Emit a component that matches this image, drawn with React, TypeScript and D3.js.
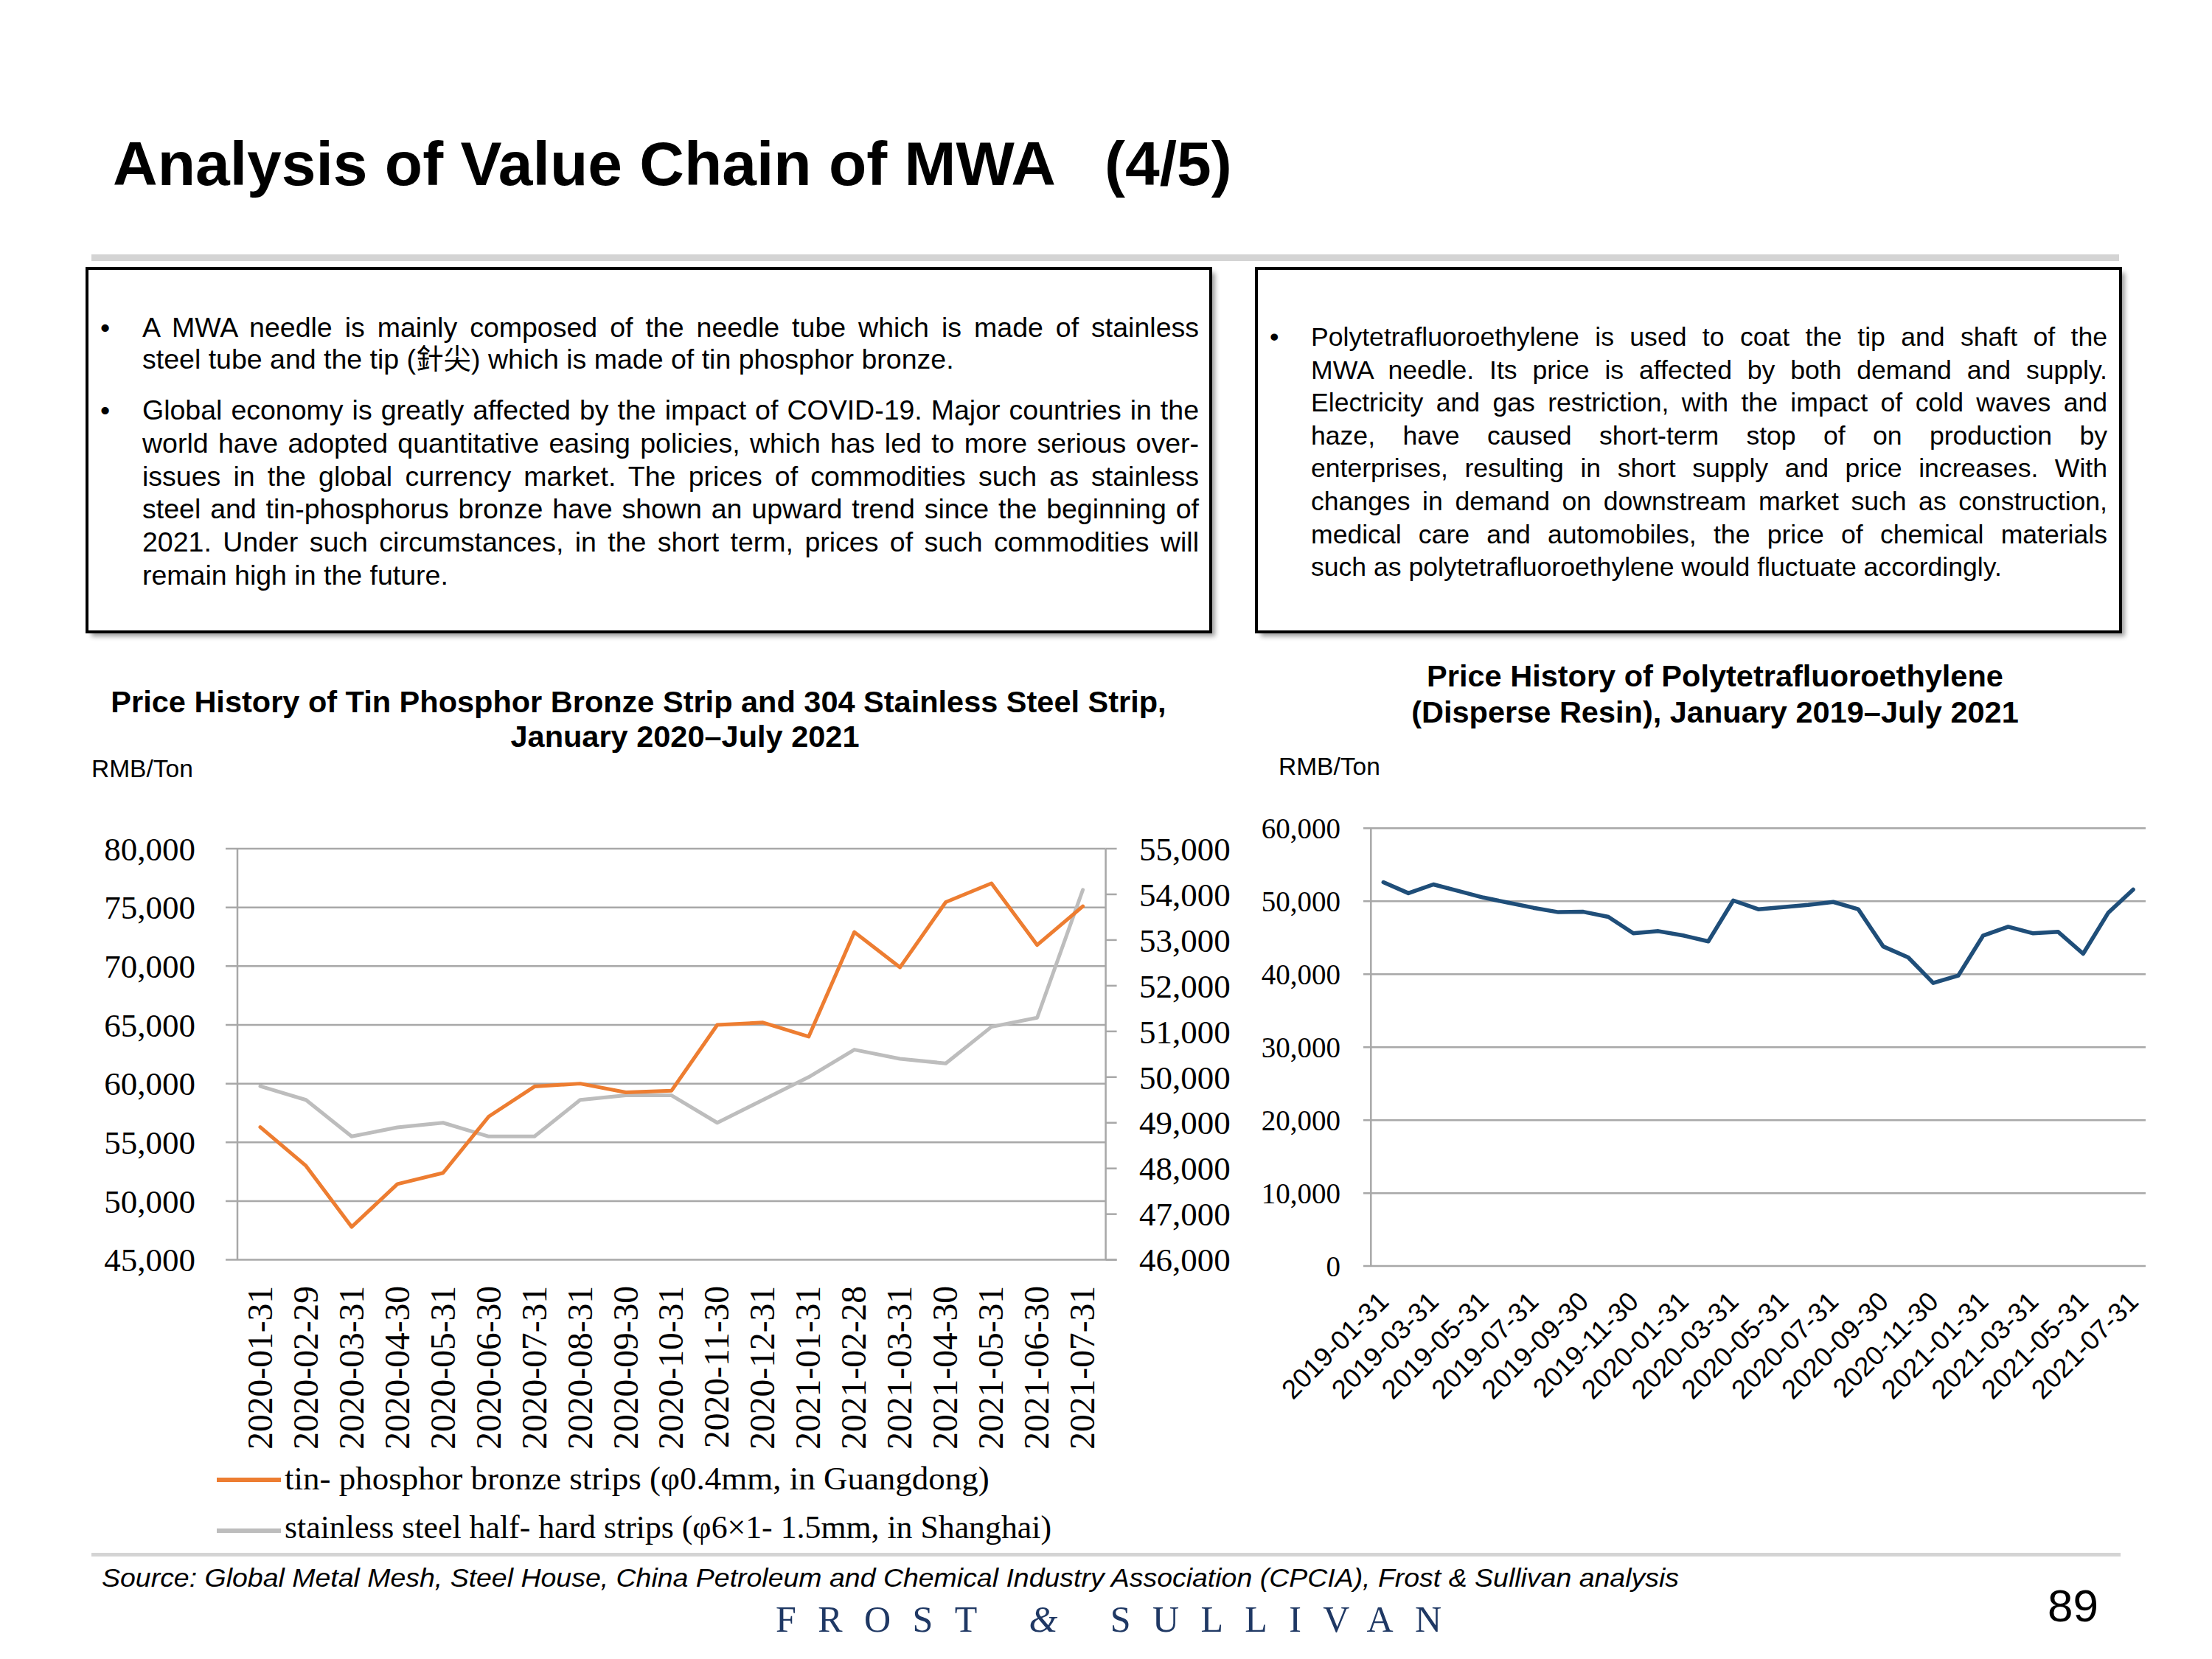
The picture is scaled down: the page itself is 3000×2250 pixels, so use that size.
import React, { useLayoutEffect, useRef } from "react";
import * as d3 from "d3";

// ---------- DATA ----------
const leftDates = [
  "2020-01-31", "2020-02-29", "2020-03-31", "2020-04-30", "2020-05-31", "2020-06-30",
  "2020-07-31", "2020-08-31", "2020-09-30", "2020-10-31", "2020-11-30", "2020-12-31",
  "2021-01-31", "2021-02-28", "2021-03-31", "2021-04-30", "2021-05-31", "2021-06-30", "2021-07-31",
];
const bronzeValues = [
  56300, 53000, 47800, 51450, 52400, 57200, 59750, 60000, 59250, 59400,
  65000, 65200, 64000, 72900, 69900, 75450, 77050, 71800, 75100,
];
const steelValues = [
  49800, 49500, 48700, 48900, 49000, 48700, 48700, 49500, 49600, 49600,
  49000, 49500, 50000, 50600, 50400, 50300, 51100, 51300, 54100,
];
const leftAxisDomain = [45000, 80000];
const rightAxisDomain = [46000, 55000];

const ptfeDates = [
  "2019-01-31", "2019-02-28", "2019-03-31", "2019-04-30", "2019-05-31", "2019-06-30",
  "2019-07-31", "2019-08-31", "2019-09-30", "2019-10-31", "2019-11-30", "2019-12-31",
  "2020-01-31", "2020-02-29", "2020-03-31", "2020-04-30", "2020-05-31", "2020-06-30",
  "2020-07-31", "2020-08-31", "2020-09-30", "2020-10-31", "2020-11-30", "2020-12-31",
  "2021-01-31", "2021-02-28", "2021-03-31", "2021-04-30", "2021-05-31", "2021-06-30", "2021-07-31",
];
const ptfeValues = [
  52600, 51100, 52300, 51400, 50500, 49800, 49100, 48500, 48550, 47850,
  45600, 45900, 45300, 44500, 50100, 48900, 49200, 49500, 49900, 48900,
  43800, 42300, 38800, 39800, 45300, 46500, 45600, 45800, 42800, 48400, 51600,
];
const ptfeDomain = [0, 60000];

const legendLabels = [
  "tin- phosphor bronze strips (φ0.4mm, in Guangdong)",
  "stainless steel half- hard strips (φ6×1- 1.5mm, in Shanghai)",
];

const leftBoxLines = [
  { t: "A MWA needle is mainly composed of the needle tube which is made of stainless", j: true, bullet: true },
  { t: "steel tube and the tip (針尖) which is made of tin phosphor bronze.", j: false },
  { t: "Global economy is greatly affected by the impact of COVID-19. Major countries in the", j: true, bullet: true },
  { t: "world have adopted quantitative easing policies, which has led to more serious over-", j: true },
  { t: "issues in the global currency market. The prices of commodities such as stainless", j: true },
  { t: "steel and tin-phosphorus bronze have shown an upward trend since the beginning of", j: true },
  { t: "2021. Under such circumstances, in the short term, prices of such commodities will", j: true },
  { t: "remain high in the future.", j: false },
];
const leftBoxBaselines = [457, 500, 569, 614, 659, 703, 748, 793];

const rightBoxLines = [
  { t: "Polytetrafluoroethylene is used to coat the tip and shaft of the", j: true, bullet: true },
  { t: "MWA needle. Its price is affected by both demand and supply.", j: true },
  { t: "Electricity and gas restriction, with the impact of cold waves and", j: true },
  { t: "haze, have caused short-term stop of on production by", j: true },
  { t: "enterprises, resulting in short supply and price increases. With", j: true },
  { t: "changes in demand on downstream market such as construction,", j: true },
  { t: "medical care and automobiles, the price of chemical materials", j: true },
  { t: "such as polytetrafluoroethylene would fluctuate accordingly.", j: false },
];
const rightBoxBaselines = [469, 514, 558, 603, 647, 692, 737, 781];

// ---------- STYLE ----------
const SANS = "'Liberation Sans', Arial, 'Noto Sans CJK TC', sans-serif";
const SERIF = "'Liberation Serif', 'Times New Roman', serif";
const ORANGE = "#ED7D31";
const GREY = "#BDBDBD";
const BLUE = "#1F4E79";
const GRID = "#A8A8A8";

export default function App() {
  const svgRef = useRef<SVGSVGElement>(null);

  useLayoutEffect(() => {
    const justify = () => {
      const svg = svgRef.current;
      if (!svg) return;
      svg.querySelectorAll("text[data-jw]").forEach((el: any) => {
        const target = +el.getAttribute("data-jw");
        el.setAttribute("word-spacing", "0");
        const w = el.getComputedTextLength();
        const spaces = (el.textContent.match(/ /g) || []).length;
        if (spaces > 0) el.setAttribute("word-spacing", String((target - w) / spaces));
      });
    };
    justify();
    if ((document as any).fonts && (document as any).fonts.ready) {
      (document as any).fonts.ready.then(justify);
    }
  }, []);

  // ---- left chart scales ----
  const lx0 = 322, lx1 = 1499.6, lyTop = 1151, lyBot = 1708.6;
  const xL = d3.scalePoint<string>().domain(leftDates).range([lx0, lx1]).padding(0.5);
  const yL = d3.scaleLinear().domain(leftAxisDomain).range([lyBot, lyTop]);
  const yR = d3.scaleLinear().domain(rightAxisDomain).range([lyBot, lyTop]);
  const fmt = d3.format(",");
  const bronzeLine = d3.line<number>().x((_, i) => xL(leftDates[i])!).y((d) => yL(d));
  const steelLine = d3.line<number>().x((_, i) => xL(leftDates[i])!).y((d) => yR(d));

  // ---- right chart scales ----
  const rx0 = 1859.3, rx1 = 2910, ryTop = 1123.3, ryBot = 1717.1;
  const xP = d3.scalePoint<string>().domain(ptfeDates).range([rx0, rx1]).padding(0.5);
  const yP = d3.scaleLinear().domain(ptfeDomain).range([ryBot, ryTop]);
  const ptfeLine = d3.line<number>().x((_, i) => xP(ptfeDates[i])!).y((d) => yP(d));

  const renderBox = (
    x: number, y: number, w: number, h: number,
    lines: { t: string; j: boolean; bullet?: boolean }[],
    baselines: number[], textX: number, textW: number, bulletX: number, fs: number
  ) => (
    <g>
      <rect x={x + 6} y={y + 6} width={w} height={h} fill="#7f7f7f" opacity={0.75} filter="url(#blur)" />
      <rect x={x} y={y} width={w} height={h} fill="#fff" stroke="#000" strokeWidth={4} />
      {lines.map((l, i) => (
        <g key={i}>
          {l.bullet && (
            <text x={bulletX} y={baselines[i]} fontFamily={SANS} fontSize={fs}>•</text>
          )}
          <text
            x={textX}
            y={baselines[i]}
            fontFamily={SANS}
            fontSize={fs}
            fill="#000"
            {...(l.j ? { "data-jw": textW } : {})}
            style={{ whiteSpace: "pre" }}
          >
            {l.t}
          </text>
        </g>
      ))}
    </g>
  );

  return (
    <svg
      ref={svgRef}
      width={3000}
      height={2250}
      viewBox="0 0 3000 2250"
      style={{ position: "absolute", left: 0, top: 0, background: "#fff" }}
    >
      <defs>
        <filter id="blur" x="-5%" y="-5%" width="110%" height="110%">
          <feGaussianBlur stdDeviation={3} />
        </filter>
      </defs>
      <rect x={0} y={0} width={3000} height={2250} fill="#fff" />

      {/* Title */}
      <text x={153} y={251} fontFamily={SANS} fontWeight="bold" fontSize={84} fill="#000">
        Analysis of Value Chain of MWA
      </text>
      <text x={1498} y={251} fontFamily={SANS} fontWeight="bold" fontSize={84} fill="#000">
        (4/5)
      </text>
      <rect x={124} y={345} width={2750} height={9} fill="#D4D4D4" />

      {/* Text boxes */}
      {renderBox(118, 364, 1524, 493, leftBoxLines, leftBoxBaselines, 193, 1433, 136, 37.5)}
      {renderBox(1704, 364, 1172, 493, rightBoxLines, rightBoxBaselines, 1778, 1080, 1722, 35.6)}

      {/* ---------- Left chart ---------- */}
      <text x={866} y={966} textAnchor="middle" fontFamily={SANS} fontWeight="bold" fontSize={41.5}>
        Price History of Tin Phosphor Bronze Strip and 304 Stainless Steel Strip,
      </text>
      <text x={929} y={1013} textAnchor="middle" fontFamily={SANS} fontWeight="bold" fontSize={41.5}>
        January 2020–July 2021
      </text>
      <text x={124} y={1054} fontFamily={SANS} fontSize={33.5}>RMB/Ton</text>

      {/* gridlines + left ticks */}
      {yL.ticks(7).map((t) => (
        <g key={"gl" + t}>
          <line x1={306} x2={t === leftAxisDomain[0] ? 1514.6 : lx1} y1={yL(t)} y2={yL(t)} stroke={GRID} strokeWidth={2.5} />
          <text x={265} y={yL(t)} dy="0.35em" textAnchor="end" fontFamily={SERIF} fontSize={45}>
            {fmt(t)}
          </text>
        </g>
      ))}
      <line x1={lx0} x2={lx0} y1={lyTop} y2={lyBot} stroke={GRID} strokeWidth={2.5} />
      <line x1={lx1} x2={lx1} y1={lyTop} y2={lyBot} stroke={GRID} strokeWidth={2.5} />
      {yR.ticks(9).map((t) => (
        <g key={"gr" + t}>
          <line x1={lx1} x2={1514.6} y1={yR(t)} y2={yR(t)} stroke={GRID} strokeWidth={2.5} />
          <text x={1545} y={yR(t)} dy="0.35em" textAnchor="start" fontFamily={SERIF} fontSize={45}>
            {fmt(t)}
          </text>
        </g>
      ))}
      {leftDates.map((d) => (
        <text
          key={"lx" + d}
          transform={`translate(${xL(d)},1744) rotate(-90)`}
          dy="0.33em"
          textAnchor="end"
          fontFamily={SERIF}
          fontSize={47.5}
        >
          {d}
        </text>
      ))}
      <path d={steelLine(steelValues)!} fill="none" stroke={GREY} strokeWidth={5} strokeLinejoin="round" strokeLinecap="round" />
      <path d={bronzeLine(bronzeValues)!} fill="none" stroke={ORANGE} strokeWidth={5} strokeLinejoin="round" strokeLinecap="round" />

      {/* legend */}
      <line x1={294} x2={381} y1={2007} y2={2007} stroke={ORANGE} strokeWidth={6} />
      <text x={386} y={2020} fontFamily={SERIF} fontSize={45}>{legendLabels[0]}</text>
      <line x1={294} x2={381} y1={2076} y2={2076} stroke={GREY} strokeWidth={6} />
      <text x={386} y={2086} fontFamily={SERIF} fontSize={45} textLength={1040} lengthAdjust="spacingAndGlyphs">{legendLabels[1]}</text>

      {/* ---------- Right chart ---------- */}
      <text x={2326} y={931} textAnchor="middle" fontFamily={SANS} fontWeight="bold" fontSize={41.5}>
        Price History of Polytetrafluoroethylene
      </text>
      <text x={2326} y={980} textAnchor="middle" fontFamily={SANS} fontWeight="bold" fontSize={41.5}>
        (Disperse Resin), January 2019–July 2021
      </text>
      <text x={1734} y={1051} fontFamily={SANS} fontSize={33.5}>RMB/Ton</text>

      {yP.ticks(6).map((t) => (
        <g key={"gp" + t}>
          <line x1={1849} x2={rx1} y1={yP(t)} y2={yP(t)} stroke={GRID} strokeWidth={2.5} />
          <text x={1818} y={yP(t)} dy="0.35em" textAnchor="end" fontFamily={SERIF} fontSize={39}>
            {fmt(t)}
          </text>
        </g>
      ))}
      <line x1={rx0} x2={rx0} y1={ryTop} y2={ryBot} stroke={GRID} strokeWidth={2.5} />
      {ptfeDates.map((d, i) =>
        i % 2 === 0 ? (
          <text
            key={"px" + d}
            transform={`translate(${xP(d)},${ryBot + 41}) rotate(-45)`}
            dy="0.36em"
            textAnchor="end"
            fontFamily={SANS}
            fontSize={36.5}
          >
            {d}
          </text>
        ) : null
      )}
      <path d={ptfeLine(ptfeValues)!} fill="none" stroke={BLUE} strokeWidth={5.5} strokeLinejoin="round" strokeLinecap="round" />

      {/* Footer */}
      <rect x={124} y={2106} width={2752} height={5} fill="#D4D4D4" />
      <text x={138} y={2152} fontFamily={SANS} fontStyle="italic" fontSize={35} textLength={2139} lengthAdjust="spacingAndGlyphs">
        Source: Global Metal Mesh, Steel House, China Petroleum and Chemical Industry Association (CPCIA), Frost &amp; Sullivan analysis
      </text>
      <text x={2777} y={2199} fontFamily={SANS} fontSize={62}>89</text>
      <text x={1052} y={2213} fontFamily={SERIF} fontSize={50} fill="#1F3864" textLength={903} lengthAdjust="spacing">
        FROST <tspan fontStyle="italic">&amp;</tspan> SULLIVAN
      </text>
    </svg>
  );
}
